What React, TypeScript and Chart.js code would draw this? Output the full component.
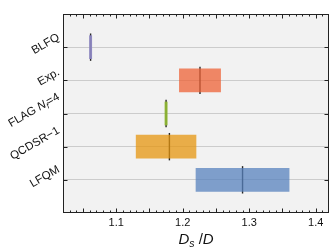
import { useEffect, useRef } from "react";
import { Chart, registerables } from "chart.js";

Chart.register(...registerables);

// ---- data ----
const categories = ["BLFQ", "Exp.", "FLAG $N_f$=4", "QCDSR−1", "LFQM"];
const centers = [1.0615, 1.226, 1.175, 1.18, 1.29];
const lows = [1.0598, 1.195, 1.1733, 1.13, 1.22];
const highs = [1.0632, 1.257, 1.1767, 1.22, 1.36];
const xTickLabels = [1.1, 1.2, 1.3, 1.4];
const boxColors = [
  "rgba(140,134,192,0.95)",
  "rgba(238,97,53,0.75)",
  "rgba(140,180,50,0.95)",
  "rgba(229,149,15,0.75)",
  "rgba(87,130,189,0.75)",
];
const xTitle = "$D_s$ /$D$";

const FONT = '"Liberation Sans", Arial, Helvetica, sans-serif';

type Seg = { t: string; italic: boolean; sub: boolean };

function parseRich(s: string): Seg[] {
  const out: Seg[] = [];
  const parts = s.split("$");
  parts.forEach((p, idx) => {
    if (idx % 2 === 0) {
      if (p) out.push({ t: p, italic: false, sub: false });
    } else {
      for (let i = 0; i < p.length; i++) {
        const ch = p[i];
        if (ch === "_" && i + 1 < p.length) {
          out.push({ t: p[i + 1], italic: /[A-Za-z]/.test(p[i + 1]), sub: true });
          i++;
        } else {
          out.push({ t: ch, italic: /[A-Za-z]/.test(ch), sub: false });
        }
      }
    }
  });
  return out;
}

function segFont(seg: Seg, size: number) {
  const sz = seg.sub ? size * 0.7 : size;
  return `${seg.italic ? "italic " : ""}${sz}px ${FONT}`;
}

function measureRich(ctx: CanvasRenderingContext2D, segs: Seg[], size: number) {
  let w = 0;
  for (const s of segs) {
    ctx.font = segFont(s, size);
    w += ctx.measureText(s.t).width;
  }
  return w;
}

function drawRich(ctx: CanvasRenderingContext2D, segs: Seg[], size: number, x: number, y: number) {
  let cx = x;
  ctx.textAlign = "left";
  ctx.textBaseline = "alphabetic";
  for (const s of segs) {
    ctx.font = segFont(s, size);
    ctx.fillText(s.t, cx, y + (s.sub ? size * 0.22 : 0));
    cx += ctx.measureText(s.t).width;
  }
}

const decorPlugin = {
  id: "decor",
  beforeDraw(chart: any) {
    const { ctx, chartArea: a } = chart;
    ctx.save();
    ctx.fillStyle = "#f2f2f2";
    ctx.fillRect(a.left, a.top, a.right - a.left, a.bottom - a.top);
    ctx.restore();
  },
  afterDraw(chart: any) {
    const { ctx, chartArea: a } = chart;
    const xs = chart.scales.x;
    const ys = chart.scales.y;
    ctx.save();
    ctx.strokeStyle = "#222";
    ctx.lineWidth = 1;
    // frame
    ctx.strokeRect(Math.round(a.left) + 0.5, Math.round(a.top) + 0.5, Math.round(a.right - a.left) - 1, Math.round(a.bottom - a.top) - 1);
    // x ticks (top & bottom, inward)
    ctx.beginPath();
    for (let k = 103; k <= 141; k++) {
      const v = k / 100;
      const px = Math.round(xs.getPixelForValue(v)) + 0.5;
      const len = k % 5 === 0 ? 4.5 : 2.5;
      ctx.moveTo(px, a.bottom);
      ctx.lineTo(px, a.bottom - len);
      ctx.moveTo(px, a.top);
      ctx.lineTo(px, a.top + len);
    }
    // y ticks (left & right, inward)
    categories.forEach((_, i) => {
      const py = Math.round(ys.getPixelForValue(i + 1)) + 0.5;
      ctx.moveTo(a.left, py);
      ctx.lineTo(a.left + 4.5, py);
      ctx.moveTo(a.right, py);
      ctx.lineTo(a.right - 4.5, py);
    });
    ctx.stroke();

    ctx.fillStyle = "#111";
    // x tick labels
    ctx.font = `11px ${FONT}`;
    ctx.textAlign = "center";
    ctx.textBaseline = "alphabetic";
    xTickLabels.forEach((v) => {
      ctx.fillText(v.toFixed(1), xs.getPixelForValue(v), a.bottom + 13);
    });
    // x title
    const tSegs = parseRich(xTitle);
    const tSize = 15;
    const tw = measureRich(ctx, tSegs, tSize);
    drawRich(ctx, tSegs, tSize, (a.left + a.right) / 2 - tw / 2, a.bottom + 31);

    // y labels rotated 30deg, bbox right-aligned, vertically centred
    const ySize = 11.5;
    categories.forEach((c, i) => {
      const segs = parseRich(c);
      const w = measureRich(ctx, segs, ySize);
      const h = ySize;
      const T = ys.getPixelForValue(i + 1);
      const X = a.left - 2;
      const ax = X - h / 4;
      const ay = T - 0.25 * w - 4;
      ctx.save();
      ctx.translate(ax, ay);
      ctx.rotate(-Math.PI / 6);
      drawRich(ctx, segs, ySize, -w, ySize * 0.36);
      ctx.restore();
    });
    ctx.restore();
  },
};

export default function App() {
  const ref = useRef<HTMLCanvasElement>(null);
  useEffect(() => {
    document.body.style.margin = "0";
    const canvas = ref.current;
    if (!canvas) return;
    const chart = new Chart(canvas, {
      type: "bar",
      data: {
        datasets: [
          {
            type: "bar",
            xAxisID: "x",
            yAxisID: "y",
            data: categories.map((_, i) => ({ x: [lows[i], highs[i]], y: i + 1 })) as any,
            backgroundColor: boxColors,
            borderWidth: 0,
            barThickness: 23,
            order: 1,
          } as any,
          {
            type: "scatter",
            xAxisID: "x",
            yAxisID: "y",
            data: categories.map((_, i) => ({ x: centers[i], y: i + 1 })),
            pointStyle: "line",
            rotation: 90,
            radius: 13.7,
            borderColor: "#262626",
            borderWidth: 1.4,
            order: 2,
          } as any,
        ],
      },
      options: {
        indexAxis: "y",
        responsive: false,
        animation: false,
        layout: { autoPadding: false, padding: { left: 63, right: 5, top: 14, bottom: 36 } },
        plugins: { legend: { display: false }, tooltip: { enabled: false } },
        scales: {
          x: {
            type: "linear",
            min: 1.02,
            max: 1.42,
            offset: false,
            grid: { display: false, offset: false },
            border: { display: false },
            ticks: { display: false },
            afterFit: (s: any) => {
              s.height = 0;
            },
          },
          y: {
            type: "linear",
            min: 0,
            max: 6,
            reverse: true,
            offset: false,
            grid: { color: "#cccccc", lineWidth: 1, drawTicks: false, offset: false },
            border: { display: false },
            ticks: { display: false },
            afterBuildTicks: (s: any) => {
              s.ticks = categories.map((_, i) => ({ value: i + 1 }));
            },
            afterFit: (s: any) => {
              s.width = 0;
            },
          },
        },
      } as any,
      plugins: [decorPlugin],
    });
    return () => chart.destroy();
  }, []);
  return <canvas ref={ref} width={334} height={249} style={{ display: "block" }} />;
}
